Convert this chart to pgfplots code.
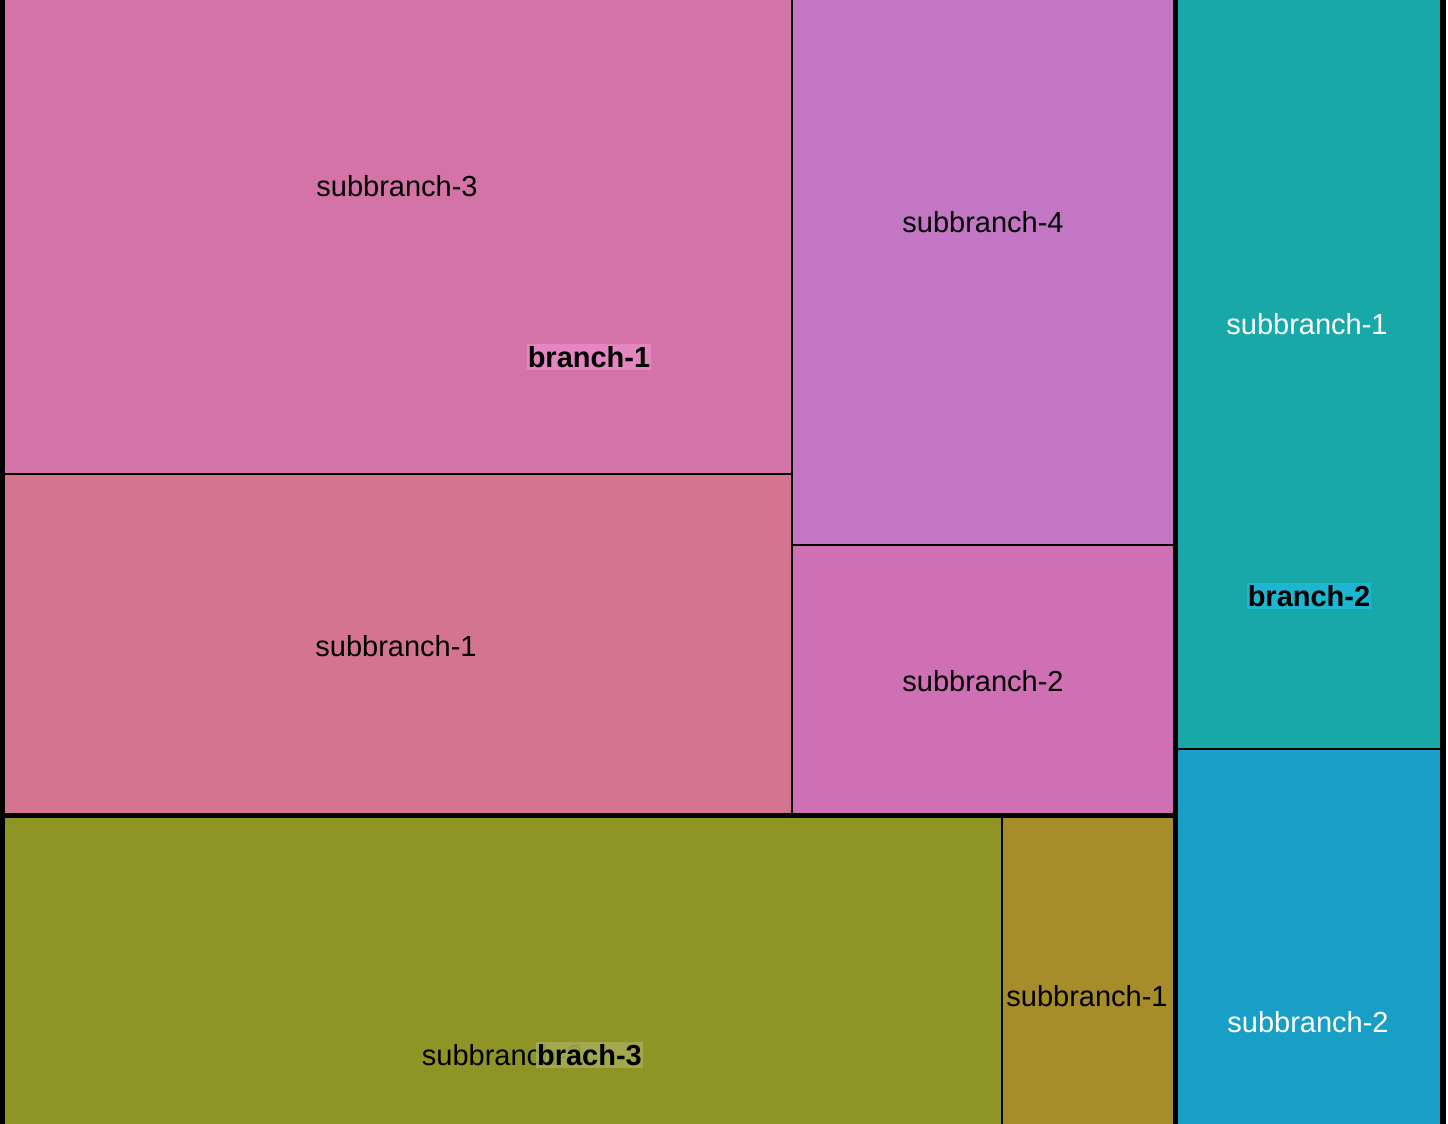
\documentclass[border=0pt]{standalone}
\usepackage{pgfplots}
\pgfplotsset{compat=1.18}
\usepackage{fontspec}
\setmainfont{Liberation Sans}
\definecolor{cA}{RGB}{212,115,167}
\definecolor{cB}{RGB}{211,116,144}
\definecolor{cC}{RGB}{195,118,195}
\definecolor{cD}{RGB}{207,112,181}
\definecolor{cE}{RGB}{142,149,37}
\definecolor{cF}{RGB}{167,140,42}
\definecolor{cG}{RGB}{25,168,168}
\definecolor{cH}{RGB}{25,158,198}
\definecolor{lb1}{RGB}{228,135,192}
\definecolor{lb2}{RGB}{30,181,208}
\definecolor{lb3}{RGB}{166,170,82}
\tikzset{sub/.style={font=\fontsize{14.5}{17}\selectfont, inner sep=1pt},
         br/.style={font=\fontsize{14.5}{17}\selectfont\bfseries, inner xsep=0.5pt, inner ysep=1pt}}
\begin{document}
\begin{tikzpicture}
\begin{axis}[
  at={(0,0)}, anchor=south west,
  width=724pt, height=562pt, scale only axis,
  xmin=0, xmax=1448, ymin=0, ymax=1124, y dir=reverse,
  hide axis, clip=true,
]
% subbranch rectangles
\addplot[fill=cA, draw=black, line width=1pt] coordinates {(2.5,-10) (792,-10) (792,474) (2.5,474)} --cycle;
\addplot[fill=cB, draw=black, line width=1pt] coordinates {(2.5,474) (792,474) (792,815.5) (2.5,815.5)} --cycle;
\addplot[fill=cC, draw=black, line width=1pt] coordinates {(792,-10) (1175.5,-10) (1175.5,545) (792,545)} --cycle;
\addplot[fill=cD, draw=black, line width=1pt] coordinates {(792,545) (1175.5,545) (1175.5,815.5) (792,815.5)} --cycle;
\addplot[fill=cE, draw=black, line width=1pt] coordinates {(2.5,815.5) (1002,815.5) (1002,1134) (2.5,1134)} --cycle;
\addplot[fill=cF, draw=black, line width=1pt] coordinates {(1002,815.5) (1175.5,815.5) (1175.5,1134) (1002,1134)} --cycle;
\addplot[fill=cG, draw=black, line width=1pt] coordinates {(1175.5,-10) (1443,-10) (1443,749) (1175.5,749)} --cycle;
\addplot[fill=cH, draw=black, line width=1pt] coordinates {(1175.5,749) (1443,749) (1443,1134) (1175.5,1134)} --cycle;
% branch borders
\addplot[draw=black, line width=2.6pt] coordinates {(2.5,-10) (1175.5,-10) (1175.5,815.5) (2.5,815.5)} --cycle;
\addplot[draw=black, line width=2.6pt] coordinates {(2.5,815.5) (1175.5,815.5) (1175.5,1134) (2.5,1134)} --cycle;
\addplot[draw=black, line width=2.6pt] coordinates {(1175.5,-10) (1443,-10) (1443,1134) (1175.5,1134)} --cycle;
% labels
\node[sub] at (axis cs:397,186) {subbranch-3};
\node[sub] at (axis cs:396,646) {subbranch-1};
\node[sub] at (axis cs:983,222) {subbranch-4};
\node[sub] at (axis cs:983,681) {subbranch-2};
\node[sub, text=white] at (axis cs:1307,324) {subbranch-1};
\node[sub, text=white] at (axis cs:1308,1022) {subbranch-2};
\node[sub] at (axis cs:1087,996) {subbranch-1};
\node[sub] at (axis cs:502.5,1055) {subbranch-3};
\node[br, fill=lb1] at (axis cs:589,357) {branch-1};
\node[br, fill=lb2] at (axis cs:1309,596) {branch-2};
\node[br, fill=lb3, fill opacity=0.9, text opacity=1] at (axis cs:589.5,1055) {brach-3};
\end{axis}
\pgfresetboundingbox
\path (0,0) rectangle (724pt,562pt);
\end{tikzpicture}
\end{document}
